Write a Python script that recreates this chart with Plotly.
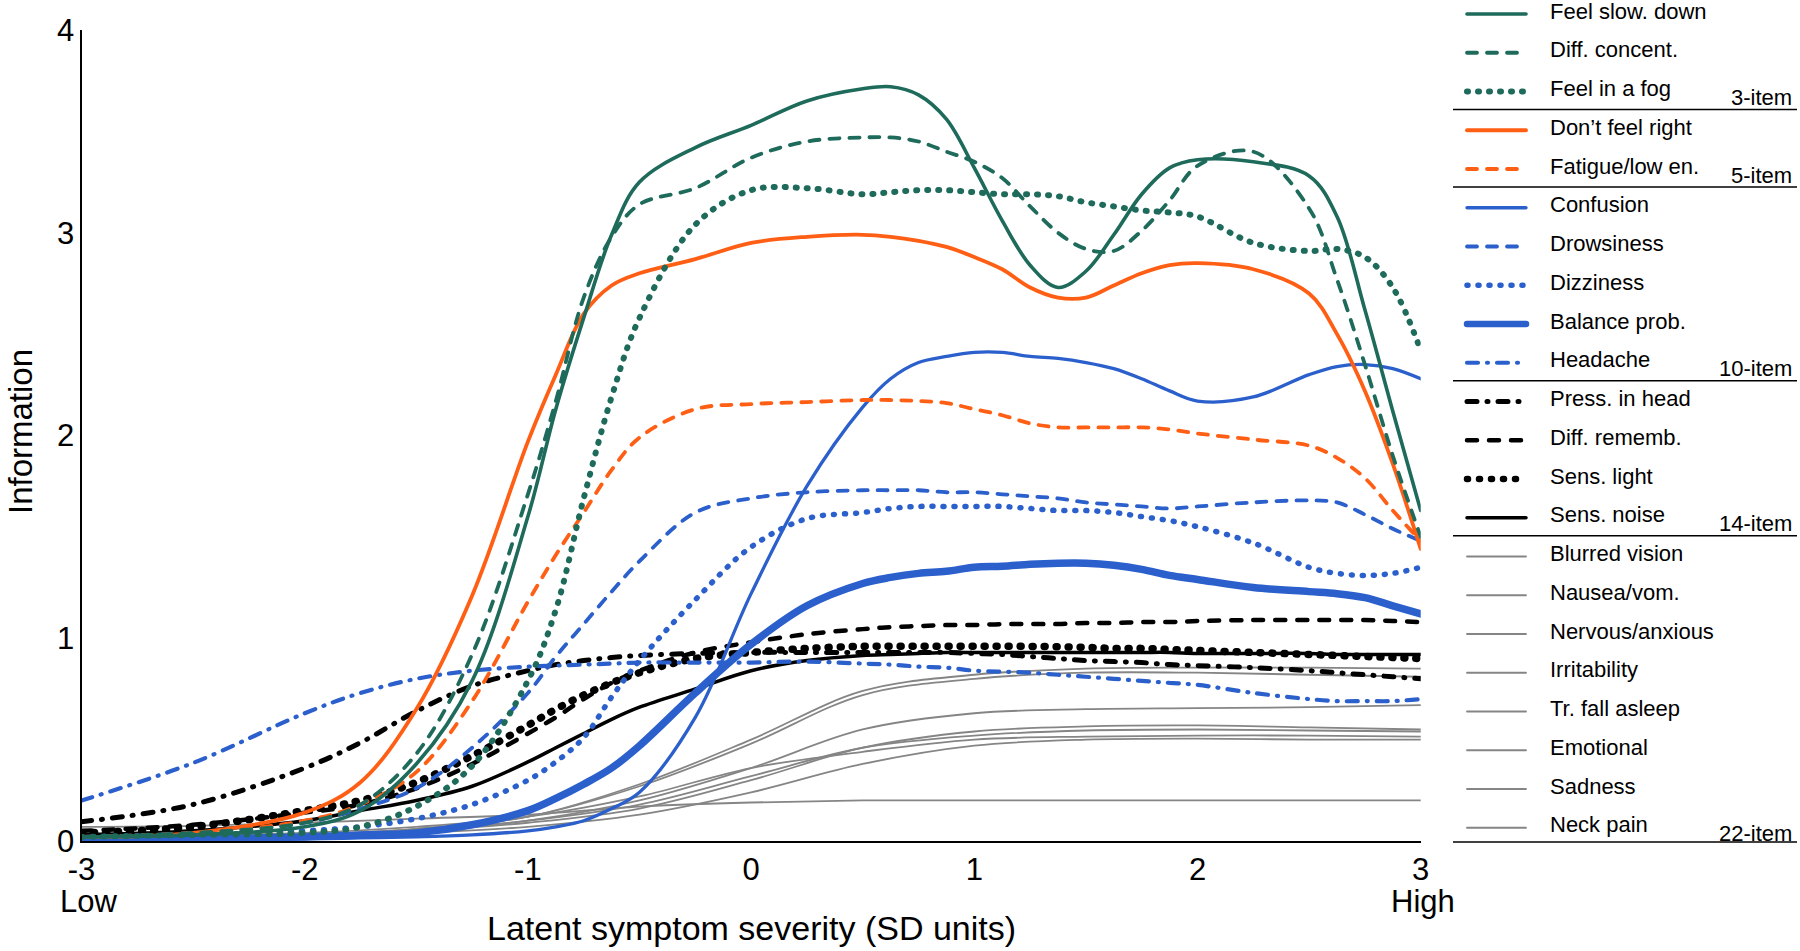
import plotly.graph_objects as go

W, H = 1800, 951

# ---------------- data ----------------
theta = [-3, -2.5, -2, -1.75, -1.5, -1.25, -1, -0.875, -0.75, -0.625, -0.5, -0.25, 0, 0.25, 0.5,
         0.625, 0.75, 0.875, 1, 1.125, 1.25, 1.375, 1.5, 1.625, 1.75, 1.875, 2, 2.25, 2.5, 2.625,
         2.75, 2.875, 3]

feel_slow = [0.02, 0.03, 0.07, 0.15, 0.38, 0.79, 1.60, 2.13, 2.58, 2.99, 3.25, 3.42, 3.53, 3.65, 3.71,
             3.72, 3.68, 3.56, 3.32, 3.06, 2.84, 2.73, 2.81, 2.99, 3.19, 3.32, 3.36, 3.35, 3.28, 3.08,
             2.62, 2.12, 1.63]
diff_concent = [0.02, 0.04, 0.09, 0.18, 0.43, 0.92, 1.71, 2.17, 2.68, 2.98, 3.14, 3.22, 3.37, 3.45, 3.47,
                3.47, 3.45, 3.40, 3.35, 3.27, 3.13, 3.00, 2.92, 2.91, 3.01, 3.16, 3.33, 3.40, 3.12, 2.77,
                2.35, 1.90, 1.50]
feel_fog = [0.02, 0.03, 0.04, 0.07, 0.17, 0.37, 0.79, 1.14, 1.69, 2.19, 2.58, 3.04, 3.21, 3.22, 3.19,
            3.20, 3.21, 3.21, 3.20, 3.19, 3.19, 3.18, 3.15, 3.13, 3.11, 3.10, 3.08, 2.95, 2.91, 2.92,
            2.88, 2.73, 2.42]
dont_feel = [0.02, 0.04, 0.14, 0.29, 0.65, 1.21, 1.97, 2.30, 2.60, 2.74, 2.80, 2.87, 2.95, 2.98, 2.99,
             2.98, 2.96, 2.93, 2.88, 2.82, 2.73, 2.68, 2.68, 2.74, 2.80, 2.84, 2.85, 2.82, 2.70, 2.50,
             2.22, 1.86, 1.44]
fatigue = [0.02, 0.04, 0.10, 0.18, 0.34, 0.69, 1.18, 1.41, 1.62, 1.83, 1.99, 2.13, 2.155, 2.165, 2.175,
           2.175, 2.17, 2.16, 2.13, 2.10, 2.06, 2.04, 2.04, 2.04, 2.04, 2.03, 2.01, 1.98, 1.95, 1.89,
           1.79, 1.63, 1.48]
confusion = [0.005, 0.007, 0.01, 0.015, 0.02, 0.03, 0.05, 0.07, 0.10, 0.16, 0.24, 0.61, 1.22, 1.75, 2.14,
             2.28, 2.36, 2.39, 2.41, 2.41, 2.39, 2.38, 2.36, 2.33, 2.28, 2.22, 2.17, 2.19, 2.30, 2.34,
             2.35, 2.33, 2.28]
drowsiness = [0.02, 0.04, 0.09, 0.16, 0.26, 0.46, 0.73, 0.91, 1.07, 1.23, 1.38, 1.62, 1.69, 1.72, 1.73,
              1.73, 1.73, 1.72, 1.72, 1.71, 1.70, 1.69, 1.67, 1.66, 1.65, 1.64, 1.65, 1.67, 1.68, 1.67,
              1.61, 1.54, 1.48]
dizziness = [0.02, 0.03, 0.05, 0.07, 0.11, 0.18, 0.30, 0.39, 0.51, 0.71, 0.89, 1.19, 1.45, 1.59, 1.62,
             1.64, 1.65, 1.65, 1.65, 1.65, 1.64, 1.63, 1.63, 1.62, 1.60, 1.58, 1.55, 1.47, 1.35, 1.32,
             1.31, 1.32, 1.35]
balance = [0.005, 0.01, 0.02, 0.03, 0.04, 0.08, 0.15, 0.21, 0.28, 0.36, 0.47, 0.73, 0.97, 1.16, 1.27,
           1.30, 1.32, 1.33, 1.35, 1.355, 1.365, 1.37, 1.37, 1.36, 1.34, 1.31, 1.29, 1.25, 1.23, 1.22,
           1.20, 1.16, 1.12]
headache = [0.20, 0.385, 0.63, 0.73, 0.80, 0.84, 0.86, 0.865, 0.87, 0.875, 0.88, 0.88, 0.88, 0.885, 0.875,
            0.87, 0.86, 0.855, 0.84, 0.835, 0.83, 0.82, 0.81, 0.80, 0.79, 0.78, 0.77, 0.73, 0.70, 0.69,
            0.69, 0.69, 0.70]
press_head = [0.095, 0.18, 0.36, 0.485, 0.64, 0.765, 0.84, 0.87, 0.89, 0.905, 0.915, 0.925, 0.93, 0.93, 0.93,
              0.93, 0.93, 0.93, 0.925, 0.92, 0.91, 0.90, 0.89, 0.885, 0.88, 0.87, 0.865, 0.855, 0.84, 0.83,
              0.82, 0.81, 0.80]
diff_rememb = [0.05, 0.08, 0.14, 0.18, 0.26, 0.38, 0.53, 0.61, 0.70, 0.78, 0.84, 0.93, 0.98, 1.02, 1.045,
               1.055, 1.06, 1.065, 1.065, 1.07, 1.07, 1.07, 1.075, 1.075, 1.08, 1.08, 1.085, 1.09, 1.09, 1.09,
               1.09, 1.085, 1.08]
sens_light = [0.04, 0.07, 0.15, 0.20, 0.29, 0.42, 0.57, 0.65, 0.72, 0.78, 0.83, 0.90, 0.93, 0.95, 0.96,
              0.96, 0.96, 0.96, 0.96, 0.96, 0.96, 0.958, 0.955, 0.95, 0.95, 0.945, 0.94, 0.93, 0.92, 0.915,
              0.91, 0.905, 0.90]
sens_noise = [0.03, 0.05, 0.10, 0.15, 0.20, 0.27, 0.39, 0.46, 0.53, 0.60, 0.66, 0.75, 0.84, 0.89, 0.915,
              0.92, 0.925, 0.93, 0.93, 0.93, 0.93, 0.93, 0.93, 0.93, 0.93, 0.93, 0.925, 0.925, 0.925, 0.92,
              0.92, 0.92, 0.92]

theta_grey = [-3, -2.5, -2, -1.5, -1, -0.5, 0, 0.5, 1, 1.5, 2, 2.5, 3]
blurred = [0.01, 0.02, 0.03, 0.06, 0.12, 0.28, 0.50, 0.74, 0.82, 0.85, 0.855, 0.855, 0.85]
nausea = [0.01, 0.02, 0.03, 0.06, 0.12, 0.27, 0.48, 0.72, 0.80, 0.83, 0.83, 0.82, 0.81]
nervous = [0.01, 0.02, 0.03, 0.05, 0.10, 0.20, 0.36, 0.55, 0.63, 0.65, 0.655, 0.66, 0.67]
irritability = [0.01, 0.02, 0.03, 0.05, 0.09, 0.16, 0.30, 0.46, 0.54, 0.565, 0.57, 0.56, 0.55]
fall_asleep = [0.01, 0.02, 0.03, 0.05, 0.10, 0.18, 0.32, 0.46, 0.52, 0.545, 0.55, 0.545, 0.54]
emotional = [0.02, 0.03, 0.04, 0.07, 0.12, 0.22, 0.36, 0.44, 0.50, 0.515, 0.52, 0.52, 0.515]
sadness = [0.01, 0.015, 0.02, 0.04, 0.07, 0.13, 0.24, 0.38, 0.47, 0.50, 0.505, 0.50, 0.50]
neck_pain = [0.07, 0.075, 0.09, 0.11, 0.13, 0.17, 0.19, 0.20, 0.20, 0.20, 0.20, 0.20, 0.20]

item_names = ["Feel slow. down", "Diff. concent.", "Feel in a fog", "Don\u2019t feel right",
              "Fatigue/low en.", "Confusion", "Drowsiness", "Dizziness", "Balance prob.", "Headache",
              "Press. in head", "Diff. rememb.", "Sens. light", "Sens. noise", "Blurred vision",
              "Nausea/vom.", "Nervous/anxious", "Irritability", "Tr. fall asleep", "Emotional",
              "Sadness", "Neck pain"]
group_labels = ["3-item", "5-item", "10-item", "14-item", "22-item"]
group_last_item = [2, 4, 9, 13, 21]
x_ticks = [-3, -2, -1, 0, 1, 2, 3]
y_ticks = [0, 1, 2, 3, 4]
end_labels = ["Low", "High"]

series_values = {
    "Feel slow. down": (theta, feel_slow), "Diff. concent.": (theta, diff_concent),
    "Feel in a fog": (theta, feel_fog), "Don\u2019t feel right": (theta, dont_feel),
    "Fatigue/low en.": (theta, fatigue), "Confusion": (theta, confusion),
    "Drowsiness": (theta, drowsiness), "Dizziness": (theta, dizziness),
    "Balance prob.": (theta, balance), "Headache": (theta, headache),
    "Press. in head": (theta, press_head), "Diff. rememb.": (theta, diff_rememb),
    "Sens. light": (theta, sens_light), "Sens. noise": (theta, sens_noise),
    "Blurred vision": (theta_grey, blurred), "Nausea/vom.": (theta_grey, nausea),
    "Nervous/anxious": (theta_grey, nervous), "Irritability": (theta_grey, irritability),
    "Tr. fall asleep": (theta_grey, fall_asleep), "Emotional": (theta_grey, emotional),
    "Sadness": (theta_grey, sadness), "Neck pain": (theta_grey, neck_pain),
}

# ---------------- styles ----------------
GREEN, ORANGE, BLUE, BLACK, GREY = "#1e6b5b", "#ff5f14", "#2b60cc", "#000000", "#858585"
DASH = "10px,10px"
DOT = "1px,10px"
styles = {
    "Feel slow. down": dict(color=GREEN, width=3.6, dash="solid"),
    "Diff. concent.": dict(color=GREEN, width=3.8, dash=DASH),
    "Feel in a fog": dict(color=GREEN, width=6, dash=DOT),
    "Don\u2019t feel right": dict(color=ORANGE, width=3.8, dash="solid"),
    "Fatigue/low en.": dict(color=ORANGE, width=3.8, dash=DASH),
    "Confusion": dict(color=BLUE, width=3.3, dash="solid"),
    "Drowsiness": dict(color=BLUE, width=3.8, dash=DASH),
    "Dizziness": dict(color=BLUE, width=5.5, dash=DOT),
    "Balance prob.": dict(color=BLUE, width=7.5, dash="solid"),
    "Headache": dict(color=BLUE, width=4.2, dash="11px,9px,1px,9px"),
    "Press. in head": dict(color=BLACK, width=5, dash="10px,10px,1px,10px"),
    "Diff. rememb.": dict(color=BLACK, width=4.5, dash="10px,12px"),
    "Sens. light": dict(color=BLACK, width=7.5, dash="1px,11px"),
    "Sens. noise": dict(color=BLACK, width=3.5, dash="solid"),
}
grey_style = dict(color=GREY, width=1.8, dash="solid")

FONT = "Liberation Sans, Arial, sans-serif"

# pixel geometry
PX_L, PX_R = 81.5, 1420.7
PX_TOP, PX_BOT = 30, 841
LEG_X0, LEG_X1 = 1440, 1800
ROW0, ROW_STEP = 14, 38.75
SAMPLE_X = [1467, 1526]
TEXT_X = 1548
GROUP_X = 1794
SEP_X = [1453, 1797]

fig = go.Figure()

# main curves: grey first, then 14-item, 10-item, 5-item, 3-item on top
draw_order = item_names[14:] + item_names[10:14] + item_names[5:10] + item_names[3:5] + item_names[0:3]
for name in draw_order:
    xs, ys = series_values[name]
    st = styles.get(name, grey_style)
    fig.add_trace(go.Scatter(x=xs, y=ys, mode="lines", name=name, showlegend=False,
                             line=dict(color=st["color"], width=st["width"], dash=st["dash"],
                                       shape="spline", smoothing=1.0),
                             hoverinfo="skip", xaxis="x", yaxis="y"))

# custom legend
annotations = []
shapes = []
for i, name in enumerate(item_names):
    yrow = ROW0 + ROW_STEP * i
    st = styles.get(name, grey_style)
    fig.add_trace(go.Scatter(x=SAMPLE_X, y=[yrow, yrow], mode="lines", showlegend=False,
                             line=dict(color=st["color"], width=min(st["width"], 6.5), dash=st["dash"]),
                             hoverinfo="skip", xaxis="x2", yaxis="y2"))
    annotations.append(dict(x=TEXT_X, y=yrow - 3, xref="x2", yref="y2", text=name, showarrow=False,
                            xanchor="left", yanchor="middle",
                            font=dict(family=FONT, size=22, color="black")))
for g, (lab, last) in enumerate(zip(group_labels, group_last_item)):
    yrow = ROW0 + ROW_STEP * last
    annotations.append(dict(x=GROUP_X, y=yrow + 6, xref="x2", yref="y2", text=lab, showarrow=False,
                            xanchor="right", yanchor="middle",
                            font=dict(family=FONT, size=22, color="black")))
    ysep = yrow + 18 if g < len(group_labels) - 1 else PX_BOT + 1
    shapes.append(dict(type="line", xref="x2", yref="y2", x0=SEP_X[0], x1=SEP_X[1], y0=ysep, y1=ysep,
                       line=dict(color="black", width=1.6)))

# axis end labels
for xv, lab, shift in zip([x_ticks[0], x_ticks[-1]], end_labels, [7, 2]):
    annotations.append(dict(x=xv, y=1 - 901 / H, xref="x", yref="paper", text=lab, showarrow=False,
                            xanchor="center", yanchor="middle", xshift=shift,
                            font=dict(family=FONT, size=31, color="black")))
# axis titles
annotations.append(dict(x=(PX_L + PX_R) / 2 / W, y=1 - 928 / H, xref="paper", yref="paper",
                        text="Latent symptom severity (SD units)", showarrow=False,
                        xanchor="center", yanchor="middle", font=dict(family=FONT, size=34, color="black")))
annotations.append(dict(x=20 / W, y=1 - 432 / H, xref="paper", yref="paper", text="Information",
                        textangle=-90, showarrow=False, xanchor="center", yanchor="middle",
                        font=dict(family=FONT, size=33, color="black")))

fig.update_layout(
    template="none",
    width=W, height=H, margin=dict(l=0, r=0, t=0, b=0, autoexpand=False),
    paper_bgcolor="white", plot_bgcolor="white", showlegend=False,
    font=dict(family=FONT, color="black"),
    xaxis=dict(domain=[PX_L / W, PX_R / W], range=[-3, 3], tickvals=x_ticks,
               ticktext=[str(v) for v in x_ticks], showline=True, linecolor="black", linewidth=2,
               showgrid=False, zeroline=False, ticks="", ticklabelstandoff=0, automargin=False,
               tickfont=dict(family=FONT, size=31, color="black"), anchor="y", fixedrange=True),
    yaxis=dict(domain=[1 - PX_BOT / H, 1 - PX_TOP / H], range=[0, 4], tickvals=y_ticks,
               ticktext=[str(v) for v in y_ticks], showline=True, linecolor="black", linewidth=2,
               showgrid=False, zeroline=False, ticks="", ticklabelstandoff=-1, automargin=False,
               tickfont=dict(family=FONT, size=31, color="black"), anchor="x", fixedrange=True),
    xaxis2=dict(domain=[LEG_X0 / W, LEG_X1 / W], range=[LEG_X0, LEG_X1], visible=False,
                anchor="y2", fixedrange=True, automargin=False),
    yaxis2=dict(domain=[0, 1], range=[H, 0], visible=False, anchor="x2", fixedrange=True,
                automargin=False),
    annotations=annotations, shapes=shapes,
)

page_css = ("var s=document.createElement('style');"
            "s.innerHTML='html,body{margin:0;padding:0;overflow:hidden;} .js-line{stroke-linecap:round;}';"
            "document.head.appendChild(s);")
fig.write_html("out.html", post_script=page_css, config={"displayModeBar": False, "staticPlot": True})
